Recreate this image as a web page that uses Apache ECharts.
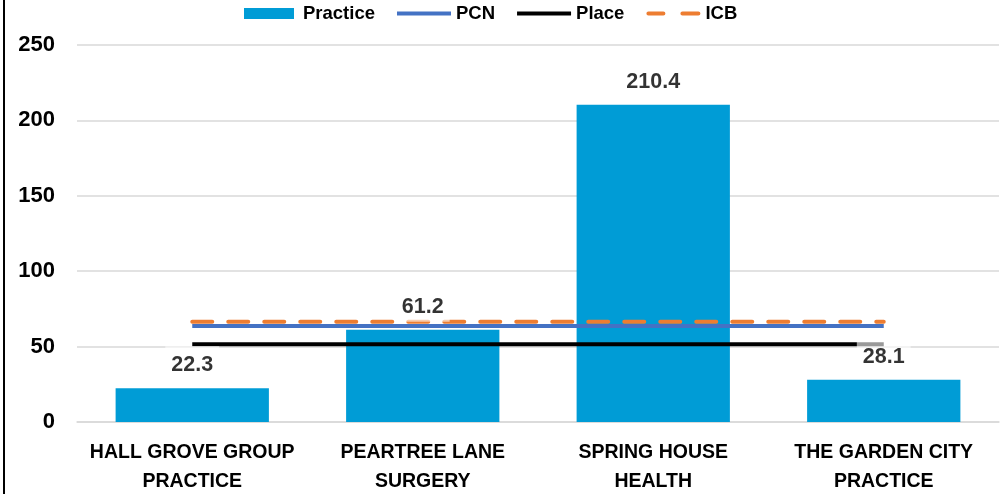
<!DOCTYPE html>
<html>
<head>
<meta charset="utf-8">
<script src="https://cdn.jsdelivr.net/npm/echarts@6/dist/echarts.min.js"></script>
<style>
html,body{margin:0;padding:0;background:#fff;}
#chart{width:1007px;height:494px;}
</style>
</head>
<body>
<div id="chart"></div>
<script>
const categories = ['HALL GROVE GROUP\nPRACTICE', 'PEARTREE LANE\nSURGERY', 'SPRING HOUSE\nHEALTH', 'THE GARDEN CITY\nPRACTICE'];
const practiceValues = [22.3, 61.2, 210.4, 28.1];
const pcnValues = [63.7, 63.7, 63.7, 63.7];
const placeValues = [51.6, 51.6, 51.6, 51.6];
const icbValues = [66.4, 66.4, 66.4, 66.4];
const yTicks = [0, 50, 100, 150, 200, 250];

const FONT = '"Liberation Sans", Arial, sans-serif';
// legend icons: invisible corner points keep the 54x11 box, visible part is the mark
const CORNERS = 'M0,0 L0.01,0 L0.01,0.01 Z M53.99,11 L54,11 L54,10.99 Z ';
const ICON_RECT = 'path://' + CORNERS + 'M0,0 L50,0 L50,11 L0,11 Z';
const ICON_LINE = 'path://' + CORNERS + 'M0,3.5 L54,3.5 L54,7.5 L0,7.5 Z';
const ICON_DASH = 'path://' + CORNERS + 'M2,3.5 L17,3.5 A2,2 0 0 1 17,7.5 L2,7.5 A2,2 0 0 1 2,3.5 Z M36,3.5 L52,3.5 A2,2 0 0 1 52,7.5 L36,7.5 A2,2 0 0 1 36,3.5 Z';

const chart = echarts.init(document.getElementById('chart'));
chart.setOption({
  animation: false,
  backgroundColor: '#fff',
  textStyle: { fontFamily: FONT },
  graphic: [{
    type: 'line', shape: { x1: 4, y1: 0, x2: 4, y2: 494 },
    style: { stroke: '#000', lineWidth: 2 }
  }],
  legend: {
    top: 4, left: 244, padding: 0, itemGap: 22, itemWidth: 54, itemHeight: 11,
    textStyle: { fontFamily: FONT, fontWeight: 'bold', fontSize: 18.5, color: '#000' },
    data: [
      { name: 'Practice', icon: ICON_RECT, itemStyle: { color: '#009CD6' } },
      { name: 'PCN', icon: ICON_LINE, itemStyle: { color: '#4472C4' } },
      { name: 'Place', icon: ICON_LINE, itemStyle: { color: '#000000' } },
      { name: 'ICB', icon: ICON_DASH, itemStyle: { color: '#ED7D31' } }
    ]
  },
  grid: { left: 77, right: 8, top: 45, bottom: 72, containLabel: false, outerBoundsMode: 'none' },
  xAxis: {
    type: 'category', data: categories,
    axisLine: { show: true, lineStyle: { color: '#d9d9d9', width: 1.5 } },
    axisTick: { show: false },
    axisLabel: { color: '#000', fontWeight: 'bold', fontSize: 19.5, fontFamily: FONT, lineHeight: 29, margin: 16, interval: 0 }
  },
  yAxis: {
    type: 'value', min: 0, max: 250, interval: 50,
    axisLine: { show: false }, axisTick: { show: false },
    splitLine: { lineStyle: { color: '#d9d9d9', width: 1.5 } },
    axisLabel: {
      color: '#000', fontWeight: 'bold', fontSize: 22, fontFamily: FONT, margin: 22,
      formatter: v => yTicks.indexOf(v) >= 0 ? String(v) : ''
    }
  },
  series: [
    {
      name: 'Practice', type: 'bar', data: practiceValues, barWidth: '66.5%',
      itemStyle: { color: '#009CD6' }, z: 2
    },
    {
      name: 'PCN', type: 'line', data: pcnValues, symbol: 'none', z: 3,
      lineStyle: { color: '#4472C4', width: 4 }, itemStyle: { color: '#4472C4' }
    },
    {
      name: 'Place', type: 'line', data: placeValues, symbol: 'none', z: 3,
      lineStyle: { color: '#000000', width: 4 }, itemStyle: { color: '#000000' }
    },
    {
      name: 'ICB', type: 'line', data: icbValues, symbol: 'none', z: 4,
      lineStyle: { color: '#ED7D31', width: 4, type: [20, 16], cap: 'round' }, itemStyle: { color: '#ED7D31' }
    },
    {
      name: 'labels', type: 'scatter', data: practiceValues, symbolSize: 0, z: 10,
      silent: true, tooltip: { show: false },
      label: {
        show: true, position: 'top', distance: 8,
        color: '#000', fontWeight: 'bold', fontSize: 21.5, fontFamily: FONT,
        backgroundColor: 'rgba(255,255,255,0.75)', padding: [8, 6, 4, 6],
        formatter: p => p.value.toFixed(1)
      }
    }
  ]
});
</script>
</body>
</html>
